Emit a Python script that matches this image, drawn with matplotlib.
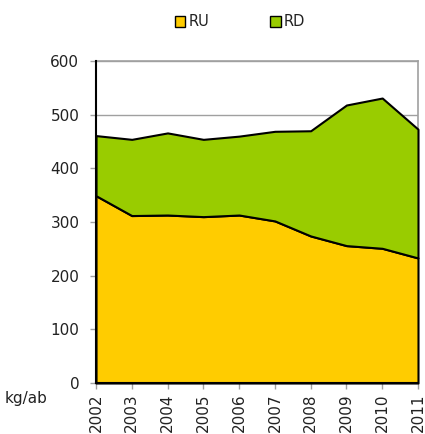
import matplotlib.pyplot as plt
from matplotlib.patches import Patch

years = ["2002", "2003", "2004", "2005", "2006", "2007", "2008", "2009", "2010", "2011"]
ru = [349, 312, 313, 310, 313, 302, 274, 256, 251, 233]
rd = [112, 142, 153, 144, 147, 167, 196, 262, 280, 240]

yellow = "#FFCC00"
green = "#99CC00"

fig = plt.figure(figsize=(4.25, 4.34), dpi=100)
ax = fig.add_axes([96 / 425, 1 - 383 / 434, 322 / 425, 322 / 434])

x = list(range(len(years)))
polys = ax.stackplot(x, ru, rd, colors=[yellow, green], edgecolor="black", linewidth=1.5, zorder=2)
for p in polys:
    p.set_clip_on(False)

ax.set_xlim(0, len(years) - 1)
ax.set_ylim(0, 600)
ax.set_yticks(range(0, 601, 100))
ax.set_xticks(x)
ax.set_xticklabels(years, rotation=90)
ax.yaxis.grid(True, color="#a0a0a0", linewidth=1, zorder=1)
ax.set_axisbelow(True)

for s in ["top", "right"]:
    ax.spines[s].set_color("#a0a0a0")
    ax.spines[s].set_linewidth(1.2)
    ax.spines[s].set_zorder(1)
ax.spines["left"].set_color("black")
ax.spines["bottom"].set_color("black")
ax.spines["left"].set_linewidth(1.5)
ax.spines["bottom"].set_linewidth(1.5)
ax.spines["left"].set_zorder(3)
ax.spines["bottom"].set_zorder(3)

ax.tick_params(axis="both", colors="#a0a0a0", labelcolor="#222222", labelsize=11, length=4, width=1)
ax.tick_params(axis="y", pad=8)

fig.text(5 / 425, 1 - 398 / 434, "kg/ab", fontsize=11, va="center", ha="left", color="#222222")

handles = [Patch(facecolor=yellow, edgecolor="black", linewidth=1),
           Patch(facecolor=green, edgecolor="black", linewidth=1)]
fig.legend(handles, ["RU", "RD"], loc="center", bbox_to_anchor=(240 / 425, 1 - 22 / 434),
           ncol=2, frameon=False, fontsize=10.5, handlelength=0.7, handleheight=0.7,
           handletextpad=0.2, columnspacing=4.2, labelcolor="#222222")

fig.savefig("out.png", dpi=100)
